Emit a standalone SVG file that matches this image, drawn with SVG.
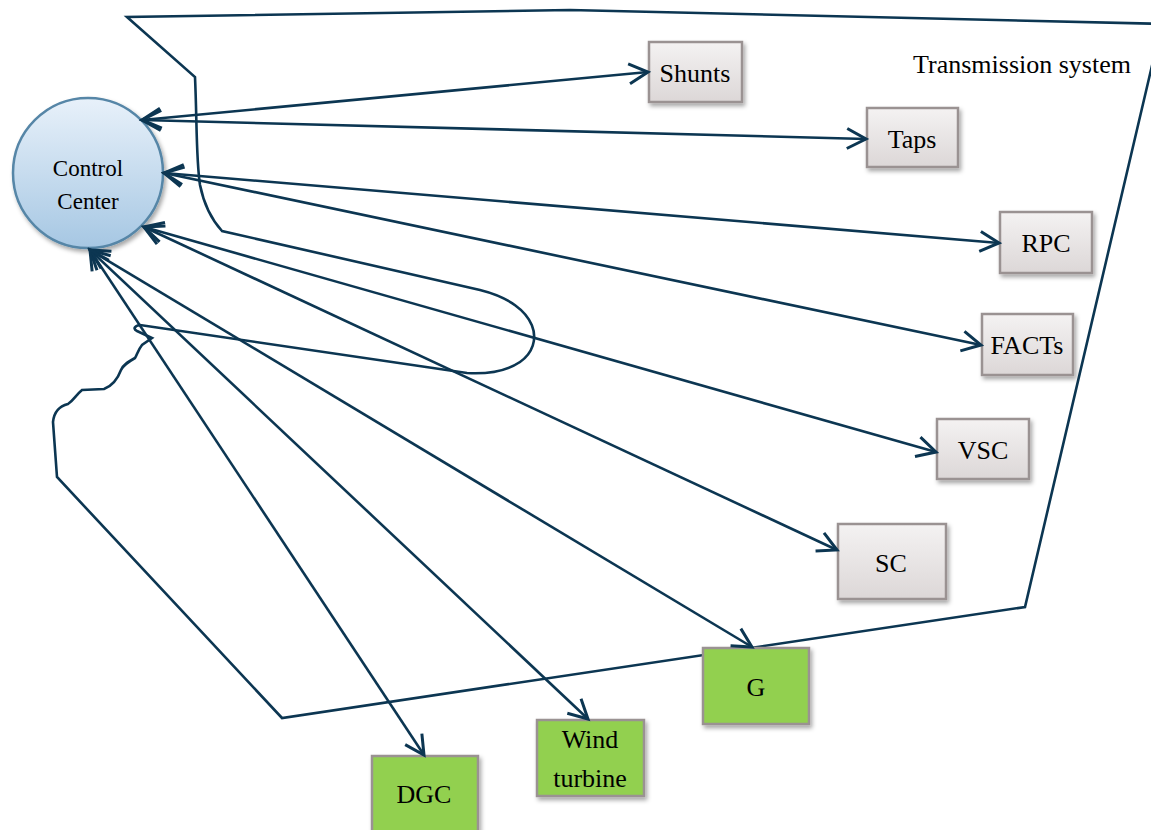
<svg xmlns="http://www.w3.org/2000/svg" width="1151" height="830" viewBox="0 0 1151 830">
<style>
.lbl{font-family:"Liberation Serif","Times New Roman",serif;font-size:26px;fill:#000;text-anchor:middle}
.cc{font-family:"Liberation Serif","Times New Roman",serif;font-size:23px;fill:#000;text-anchor:middle}
.box{fill:url(#gbox);stroke:#9a9292;stroke-width:2.5;filter:url(#sh)}
.gbox{fill:#92d050;stroke:#9a9292;stroke-width:2.5;filter:url(#sh)}
.ln{fill:none;stroke:#0c3652;stroke-width:2.6}
.ar{marker-start:url(#ah);marker-end:url(#ah)}
</style>
<defs>
<linearGradient id="gbox" x1="0" y1="0" x2="0" y2="1">
<stop offset="0" stop-color="#f4f2f2"/><stop offset="1" stop-color="#dcd7d7"/>
</linearGradient>
<linearGradient id="gcirc" x1="0" y1="0" x2="0" y2="1">
<stop offset="0" stop-color="#e8f1fa"/><stop offset="1" stop-color="#a6c7e3"/>
</linearGradient>
<filter id="sh" x="-20%" y="-20%" width="150%" height="150%">
<feDropShadow dx="2" dy="3" stdDeviation="2" flood-color="#000" flood-opacity="0.35"/>
</filter>
<marker id="ah" markerUnits="userSpaceOnUse" markerWidth="26" markerHeight="26" viewBox="0 0 26 26" refX="22" refY="13" orient="auto-start-reverse">
<path d="M3,3 L22,13 L3,23" fill="none" stroke="#0c3652" stroke-width="3" stroke-linejoin="miter"/>
</marker>
</defs>
<g id="boundary">
<path class="ln" d="M127,17 L195,77 C197,120 196,160 200,185 C204,205 212,220 222,231 L480,290 C540,305 545,345 520,362 C505,372 485,374 467,373 L140,325 C134,326 133,329 137,331 L152,338 L142,345 C138,350 137,355 135,358 C128,362 123,365 121,370 C118,378 112,386 104,389 L82,390 C76,395 74,400 68,404 C60,406 54,412 53,422 L57,477 L282,718 L1025,607 L1158,40 L1165,24 L570,10 Z"/>
<text class="lbl" x="1022" y="73">Transmission system</text>
</g>
<g id="control-center">
<circle cx="88" cy="173" r="75" fill="url(#gcirc)" stroke="#5686a7" stroke-width="2.5" filter="url(#sh)"/>
<text class="cc" x="88" y="176">Control</text>
<text class="cc" x="88" y="209">Center</text>
</g>
<g id="shunts"><rect class="box" x="649" y="42" width="93" height="60"/><text class="lbl" x="695" y="82">Shunts</text></g>
<g id="taps"><rect class="box" x="867" y="108" width="91" height="59"/><text class="lbl" x="912" y="148">Taps</text></g>
<g id="rpc"><rect class="box" x="1000" y="212" width="92" height="61"/><text class="lbl" x="1046" y="252">RPC</text></g>
<g id="facts"><rect class="box" x="982" y="314" width="91" height="61"/><text class="lbl" x="1027" y="354">FACTs</text></g>
<g id="vsc"><rect class="box" x="937" y="419" width="92" height="60"/><text class="lbl" x="983" y="459">VSC</text></g>
<g id="sc"><rect class="box" x="838" y="524" width="108" height="75"/><text class="lbl" x="891" y="572">SC</text></g>
<g id="g"><rect class="gbox" x="703" y="648" width="106" height="76"/><text class="lbl" x="756" y="696">G</text></g>
<g id="wind-turbine"><rect class="gbox" x="537" y="720" width="107" height="76"/><text class="lbl" x="590" y="748">Wind</text><text class="lbl" x="590" y="787">turbine</text></g>
<g id="dgc"><rect class="gbox" x="372" y="756" width="106" height="90"/><text class="lbl" x="424" y="803">DGC</text></g>
<g id="connectors">
<line class="ln ar" x1="142" y1="120" x2="648" y2="72"/>
<line class="ln ar" x1="142" y1="120" x2="866" y2="139"/>
<line class="ln ar" x1="164" y1="173" x2="999" y2="243"/>
<line class="ln ar" x1="164" y1="173" x2="981" y2="345"/>
<line class="ln ar" x1="144" y1="227" x2="936" y2="452"/>
<line class="ln ar" x1="144" y1="227" x2="837" y2="550"/>
<line class="ln ar" x1="90" y1="250" x2="752" y2="647"/>
<line class="ln ar" x1="90" y1="250" x2="588" y2="719"/>
<line class="ln ar" x1="90" y1="250" x2="424" y2="755"/>
</g>
</svg>
